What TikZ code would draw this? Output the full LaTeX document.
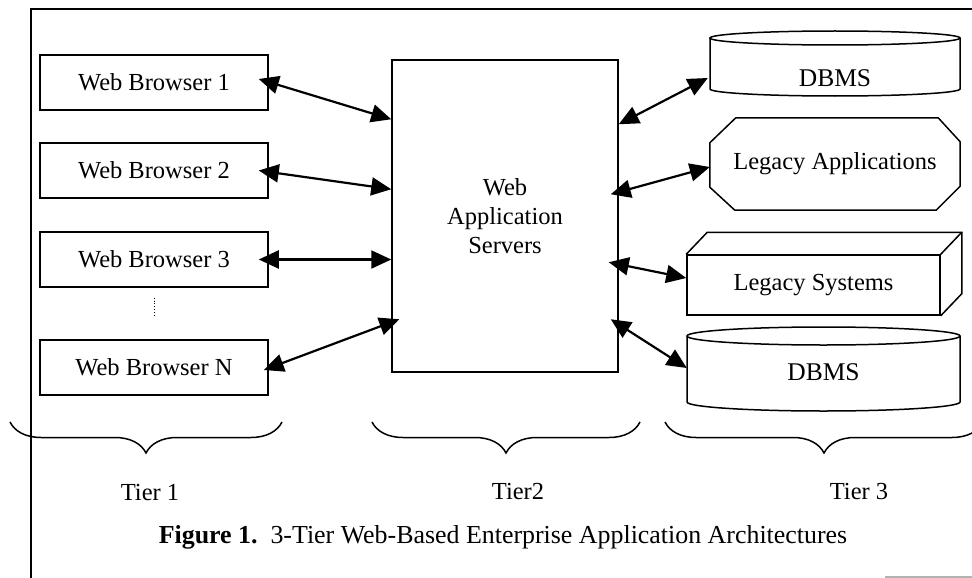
\documentclass[tikz,border=0pt]{standalone}
\usepackage{fontspec}
\setmainfont{Liberation Serif}
\usetikzlibrary{arrows.meta, positioning, calc, decorations.pathreplacing}

\newcommand\dbdrum[5]{% left, right, top, bottom, y radius
  \draw[line width=1.5pt] ({(#1+#2)/2},#3) ellipse[x radius={(#2-#1)/2}, y radius=#5];
  \draw[line width=1.5pt] (#1,#3) -- (#1,#4)
    arc[start angle=180, end angle=0, x radius={(#2-#1)/2}, y radius=#5] -- (#2,#3);
}

\tikzset{
  browser/.style={draw, line width=1.5pt, minimum width=228pt, minimum height=55pt, inner sep=0pt},
  link/.style={{Triangle[length=20pt,width=18pt]}-{Triangle[length=20pt,width=18pt]}, line width=2.2pt},
  tierbrace/.style={decorate, decoration={brace, mirror, amplitude=31pt}, line width=1.5pt},
}

\begin{document}
\begin{tikzpicture}[x=1pt, y=-1pt, font=\fontsize{24.5}{29}\selectfont]
  \useasboundingbox (0,0) rectangle (972,578);

  % frame
  \draw[line width=1.5pt] (31,578) -- (31,9) -- (972,9);
  \draw[gray!60, line width=1.5pt] (885,577) -- (972,577);

  % tier 1
  \node[browser] (wb1) at (154,82.5) {Web Browser 1};
  \node[browser] (wb2) at (154,170.5) {Web Browser 2};
  \node[browser] (wb3) at (154,259.5) {Web Browser 3};
  \node[browser] (wbN) at (154,367.5) {Web Browser N};
  \draw[dotted, line width=0.8pt] ([yshift=-10pt]wb3.south) -- ([yshift=22pt]wbN.north);

  % tier 2
  \node[draw, line width=1.5pt, minimum width=226pt, minimum height=312pt, align=center]
    (srv) at (505,216) {Web\\Application\\Servers};

  % tier 3
  \node[minimum width=250pt, font=\fontsize{25.5}{30}\selectfont] (db1) at (835,78) {DBMS};
  \dbdrum{710}{960}{38}{89}{7}

  \node[minimum width=250pt, minimum height=92pt, inner sep=0pt] (apps) at (835,164) {Legacy Applications};
  \draw[line width=1.5pt] ([xshift=26pt]apps.north west) -- ([xshift=-22pt]apps.north east)
    -- ([yshift=-24pt]apps.north east) -- ([yshift=24pt]apps.south east)
    -- ([xshift=-24pt]apps.south east) -- ([xshift=25pt]apps.south west)
    -- ([yshift=23pt]apps.south west) -- ([yshift=-25pt]apps.north west) -- cycle;

  \node[draw, line width=1.5pt, minimum width=253pt, minimum height=60pt, inner sep=0pt]
    (sys) at (813.5,285) {Legacy Systems};
  \draw[line width=1.5pt] (sys.north west) -- ++(21,-22) -| ($(sys.south east)+(21,-22)$) -- (sys.south east);
  \draw[line width=1.5pt] (sys.north east) -- ++(21,-22);

  \node[minimum width=273pt, font=\fontsize{25.5}{30}\selectfont] (db2) at (823.5,372) {DBMS};
  \dbdrum{687}{960}{336}{402}{9}

  % links
  \draw[link] ([xshift=-10pt,yshift=3.5pt]wb1.east) -- ($(srv.north west)+(0,60)$);
  \draw[link] ([xshift=-10pt]wb2.east) -- ($(srv.north west)+(0,130)$);
  \draw[link] ([xshift=-10pt]wb3.east) -- (srv.west |- wb3.east);
  \draw[link] ([xshift=-5pt,yshift=-2.5pt]wbN.east) -- ($(srv.north west)+(8,260)$);

  \draw[link] ($(srv.north east)+(0,65)$) -- ([xshift=-2pt]db1.west);
  \draw[link] ($(srv.north east)+(-8,135)$) -- ([yshift=-3pt]apps.west);
  \draw[link] ($(srv.north east)+(-10,203)$) -- ([yshift=7pt]sys.west);
  \draw[link] ($(srv.north east)+(-8,260)$) -- ([yshift=4pt]db2.west);

  % tiers
  \draw[tierbrace] (10,422) -- (282,422);
  \draw[tierbrace] (372,422) -- (640,422);
  \draw[tierbrace] (665,422) -- (983,422);
  \node (t1) at (150,493) {Tier 1};
  \node (t2) at (518,492) {Tier2};
  \node (t3) at (859,492) {Tier 3};

  \node[font=\fontsize{25.9}{30}\selectfont] (cap) at (503,537)
    {\textbf{Figure 1.}~~3-Tier Web-Based Enterprise Application Architectures};
\end{tikzpicture}
\end{document}
